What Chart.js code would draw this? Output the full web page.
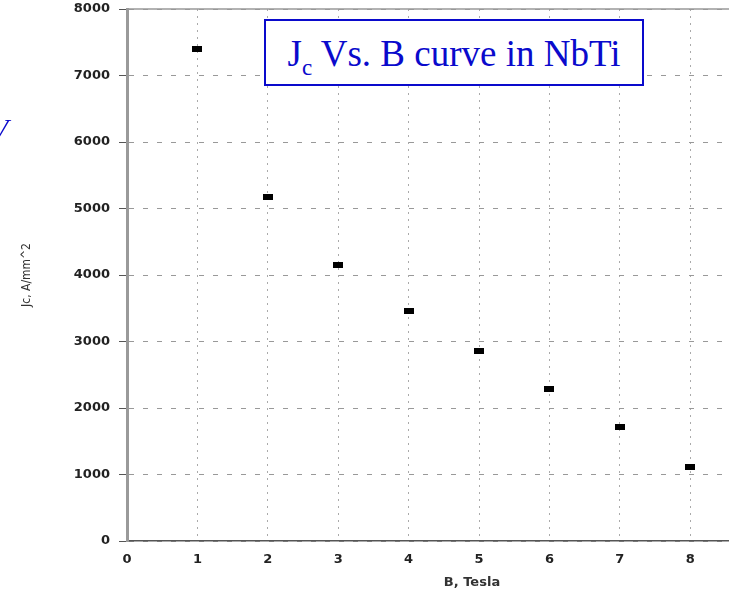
<!DOCTYPE html>
<html>
<head>
<meta charset="utf-8">
<title>Jc Vs. B curve in NbTi</title>
<script src="https://cdn.jsdelivr.net/npm/chart.js@4.4.0/dist/chart.umd.min.js"></script>
<style>
  html, body { margin: 0; padding: 0; background: #fff; overflow: hidden; }
  #wrap { position: relative; width: 729px; height: 597px; }
  #title {
    position: absolute; left: 264px; top: 19px; width: 376px; height: 53px;
    padding-top: 10px; border: 2px solid #0a0acc; color: #0a0acc; background: #fff;
    font-family: 'Liberation Serif', 'Times New Roman', serif; font-size: 37px;
    text-align: center; line-height: 46px; white-space: nowrap;
  }
  #title sub { font-size: 23px; vertical-align: -9px; line-height: 0; }
  #cut {
    position: absolute; left: -10px; top: 112px; color: #0a0acc;
    font-family: 'Liberation Serif', serif; font-style: italic; font-size: 30px;
  }
</style>
</head>
<body>
<div id="wrap">
  <canvas id="chart" width="729" height="597"></canvas>
  <div id="title">J<sub>c</sub> Vs. B curve in NbTi</div>
  <div id="cut">V</div>
</div>
<script>
// data
const bField = [1, 2, 3, 4, 5, 6, 7, 8];
const jcValues = [7400, 5170, 4150, 3460, 2860, 2290, 1710, 1110];
const xTicks = [0, 1, 2, 3, 4, 5, 6, 7, 8];
const yTicks = [0, 1000, 2000, 3000, 4000, 5000, 6000, 7000, 8000];

// small black rectangle marker
const marker = document.createElement('canvas');
marker.width = 10;
marker.height = 6;
const mctx = marker.getContext('2d');
mctx.fillStyle = '#000';
mctx.fillRect(0, 0, 10, 6);

const tickFont = { family: 'DejaVu Sans', weight: 'bold', size: 13 };

// top frame line
const frameTop = {
  id: 'frameTop',
  afterDraw(chart) {
    const { ctx, chartArea } = chart;
    ctx.save();
    ctx.strokeStyle = '#999';
    ctx.lineWidth = 1.5;
    ctx.beginPath();
    ctx.moveTo(chartArea.left, chartArea.top);
    ctx.lineTo(chartArea.right, chartArea.top);
    ctx.stroke();
    ctx.restore();
  }
};

// x axis title sits under the middle of the (cropped) original axis
const xTitle = {
  id: 'xTitle',
  afterDraw(chart) {
    const { ctx } = chart;
    const x = chart.scales.x.getPixelForValue(4.9);
    ctx.save();
    ctx.fillStyle = '#333';
    ctx.font = 'bold 13px "DejaVu Sans"';
    ctx.textAlign = 'center';
    ctx.textBaseline = 'middle';
    ctx.fillText('B, Tesla', x, 583);
    ctx.restore();
  }
};

new Chart(document.getElementById('chart'), {
  type: 'scatter',
  data: {
    datasets: [{
      data: bField.map((b, i) => ({ x: b, y: jcValues[i] })),
      pointStyle: marker,
      backgroundColor: '#000',
      borderColor: '#000',
      showLine: false
    }]
  },
  options: {
    responsive: false,
    animation: false,
    layout: { autoPadding: false, padding: { top: 9, right: 0, left: 0, bottom: 0 } },
    plugins: { legend: { display: false }, tooltip: { enabled: false } },
    scales: {
      x: {
        type: 'linear',
        min: 0,
        max: 8.55,
        afterBuildTicks: s => { s.ticks = xTicks.map(v => ({ value: v })); },
        afterFit: s => { s.height = 56; s.paddingLeft = 0; s.paddingRight = 0; },
        grid: { color: '#aaa', lineWidth: 1, drawTicks: false },
        border: { color: '#555', width: 1.5, dash: [2, 5] },
        ticks: { padding: 11, color: '#222', font: tickFont }
      },
      y: {
        min: 0,
        max: 8000,
        afterBuildTicks: s => { s.ticks = yTicks.map(v => ({ value: v })); },
        afterFit: s => { s.width = 127; s.paddingTop = 0; s.paddingBottom = 0; },
        grid: { color: '#999', lineWidth: 1, drawTicks: true, tickLength: 8, tickColor: '#555' },
        border: { color: '#9a9a9a', width: 3, dash: [5, 9] },
        ticks: { padding: 9, color: '#222', font: tickFont, callback: v => String(v) },
        title: {
          display: true,
          text: 'Jc, A/mm^2',
          color: '#333',
          font: { family: "'DejaVu Sans Condensed', 'Liberation Sans', sans-serif", size: 12 },
          padding: { top: 20, bottom: 0 }
        }
      }
    }
  },
  plugins: [frameTop, xTitle]
});
</script>
</body>
</html>
